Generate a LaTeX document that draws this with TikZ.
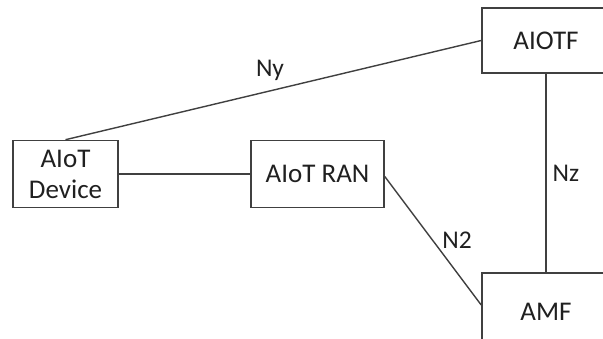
\documentclass[tikz,border=0pt]{standalone}
\usepackage{fontspec}
\setmainfont{Carlito}
\definecolor{linegray}{HTML}{404040}
\definecolor{textgray}{HTML}{202020}
\tikzset{
  boxnode/.style={draw=linegray, line width=1.6pt, fill=white, text=textgray,
    inner sep=0pt, align=center, font=\fontsize{27}{31}\selectfont},
  conn/.style={draw=linegray, line width=1.4pt},
  lbl/.style={text=textgray, font=\fontsize{25.5}{30}\selectfont, inner sep=0pt}
}
\begin{document}
\begin{tikzpicture}[x=1pt,y=-1pt]
\clip (0,0) rectangle (603,338);
\fill[white] (0,0) rectangle (603,338);
\node[boxnode, minimum width=105pt, minimum height=67pt] (dev) at (65.5,174) {AIoT\\Device};
\node[boxnode, minimum width=133pt, minimum height=67pt] (ran) at (317.5,174) {AIoT RAN};
\node[boxnode, minimum width=128pt, minimum height=65pt] (aiotf) at (546,40.5) {AIOTF};
\node[boxnode, minimum width=128pt, minimum height=78pt] (amf) at (546,312) {AMF};
\draw[conn] (dev.north) -- (aiotf.west);
\draw[conn] (dev.east) -- (ran.west);
\draw[conn] ([yshift=-2.5pt]ran.east) -- ([yshift=7pt]amf.west);
\draw[conn] (aiotf.south) -- (amf.north);
\node[lbl] (ny) at (270,70) {Ny};
\node[lbl] (nz) at (566,173) {Nz};
\node[lbl] (n2) at (457,240) {N2};
\end{tikzpicture}
\end{document}
